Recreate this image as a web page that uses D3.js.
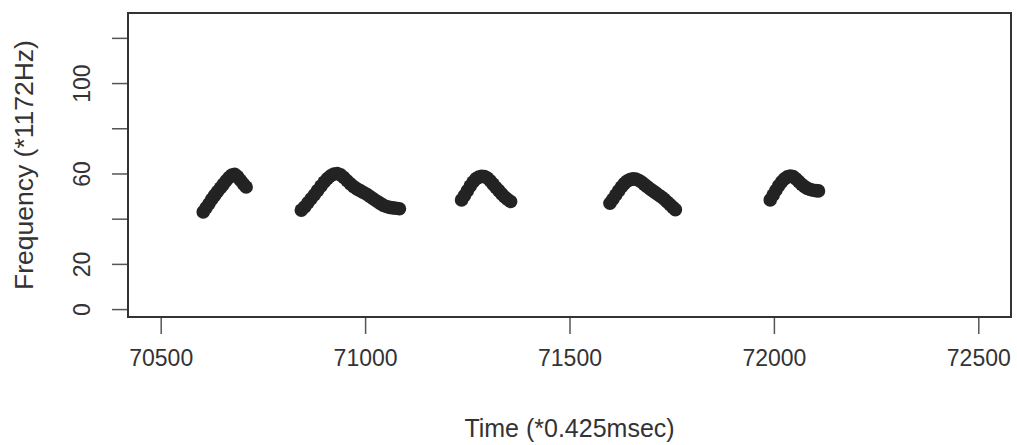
<!DOCTYPE html>
<html>
<head>
<meta charset="utf-8">
<script src="https://cdn.jsdelivr.net/npm/d3@7"></script>
<style>
    body { margin: 0; background: #fff; }
    text { font-family: "Liberation Sans", Arial, sans-serif; fill: #333; }
</style>
</head>
<body>
<div id="chart"></div>
<script>
// tick values
var xTicks = [70500, 71000, 71500, 72000, 72500];
var yTicks = [0, 20, 40, 60, 80, 100, 120];
var yLabelled = [0, 20, 60, 100];

// five syllables, each a run of [time, frequency] points
var syllable1 = [[70604,43.0],[70611,44.8],[70618,46.6],[70625,48.6],[70632,50.3],[70639,52.0],[70646,53.6],[70653,55.2],
    [70660,56.8],[70667,58.2],[70674,59.3],[70681,59.6],[70688,58.6],[70695,57.0],[70702,55.4],[70709,54.0]];
var syllable2 = [[70844,43.8],[70852,45.2],[70860,47.0],[70868,48.8],[70876,50.6],[70884,52.5],[70892,54.4],[70900,56.2],
    [70908,57.8],[70916,59.0],[70924,59.8],[70932,60.0],[70940,59.4],[70948,58.2],[70956,56.8],[70964,55.4],[70972,54.2],
    [70980,53.2],[70988,52.4],[70996,51.6],[71004,50.8],[71012,49.8],[71020,48.8],[71028,47.8],[71036,46.9],[71044,46.0],
    [71052,45.4],[71060,45.0],[71068,44.8],[71076,44.6],[71084,44.4]];
var syllable3 = [[71236,48.3],[71243,50.2],[71250,52.3],[71257,54.4],[71264,56.2],[71271,57.6],[71278,58.4],[71285,58.7],
    [71292,58.6],[71299,58.0],[71306,56.8],[71313,55.3],[71320,53.8],[71327,52.4],[71334,51.0],[71341,49.7],[71348,48.6],[71356,47.6]];
var syllable4 = [[71599,46.8],[71606,48.6],[71613,50.5],[71620,52.3],[71627,54.0],[71634,55.5],[71641,56.6],[71648,57.3],
    [71655,57.6],[71662,57.5],[71669,57.0],[71676,56.2],[71683,55.2],[71690,54.2],[71697,53.2],[71704,52.3],[71711,51.4],
    [71718,50.5],[71725,49.6],[71732,48.6],[71739,47.4],[71746,46.2],[71753,45.0],[71759,44.0]];
var syllable5 = [[71991,48.3],[71998,50.4],[72005,52.6],[72012,54.6],[72019,56.3],[72026,57.6],[72033,58.5],[72040,58.9],
    [72047,58.6],[72054,57.6],[72061,56.4],[72068,55.2],[72075,54.2],[72082,53.4],[72089,52.9],[72096,52.6],[72103,52.4],[72109,52.3]];

var points = [].concat(syllable1, syllable2, syllable3, syllable4, syllable5);

var width = 1017, height = 445;
var plot = {left: 128, right: 1011, top: 13, bottom: 317};

var svg = d3.select("#chart")
    .append("svg")
        .attr("width", width)
        .attr("height", height);

// R style: axis limits padded by 4%
var x = d3.scaleLinear()
    .domain([70420, 72580])
    .range([plot.left, plot.right]);
var y = d3.scaleLinear()
    .domain([-3.5, 131])
    .range([plot.bottom, plot.top]);

// points
svg.append("g")
    .selectAll("circle")
    .data(points)
    .enter()
    .append("circle")
        .attr("cx", function(d) { return x(d[0]); })
        .attr("cy", function(d) { return y(d[1]); })
        .attr("r", 6.8)
        .attr("fill", "#232323");

// x axis
var gx = svg.append("g")
    .attr("transform", "translate(0," + plot.bottom + ")")
    .call(d3.axisBottom(x).tickValues(xTicks).tickSize(17).tickPadding(16).tickFormat(d3.format("d")));
gx.select(".domain").remove();
gx.selectAll("line").attr("stroke", "#555").attr("stroke-width", 1.5);
gx.selectAll("text").attr("font-size", 23).attr("fill", "#333");

// y axis, labels turned like R does
var gy = svg.append("g")
    .attr("transform", "translate(" + plot.left + ",0)")
    .call(d3.axisLeft(y).tickValues(yTicks).tickSize(16).tickPadding(0)
        .tickFormat(function(d) { return yLabelled.indexOf(d) >= 0 ? d : ""; }));
gy.select(".domain").remove();
gy.selectAll("line").attr("stroke", "#555").attr("stroke-width", 1.5);
gy.selectAll("text")
    .attr("font-size", 23)
    .attr("fill", "#333")
    .attr("text-anchor", "middle")
    .attr("transform", "translate(-46,0) rotate(-90)")
    .attr("x", 0)
    .attr("dy", "0.35em");

// box
svg.append("rect")
    .attr("x", plot.left)
    .attr("y", plot.top)
    .attr("width", plot.right - plot.left)
    .attr("height", plot.bottom - plot.top)
    .attr("fill", "none")
    .attr("stroke", "#333")
    .attr("stroke-width", 2);

// axis titles
svg.append("text")
    .attr("x", (plot.left + plot.right) / 2)
    .attr("y", 428)
    .attr("dy", "0.35em")
    .attr("text-anchor", "middle")
    .attr("font-size", 25)
    .text("Time (*0.425msec)");

svg.append("text")
    .attr("transform", "translate(24," + ((plot.top + plot.bottom) / 2) + ") rotate(-90)")
    .attr("dy", "0.35em")
    .attr("text-anchor", "middle")
    .attr("font-size", 26.5)
    .text("Frequency (*1172Hz)");
</script>
</body>
</html>
